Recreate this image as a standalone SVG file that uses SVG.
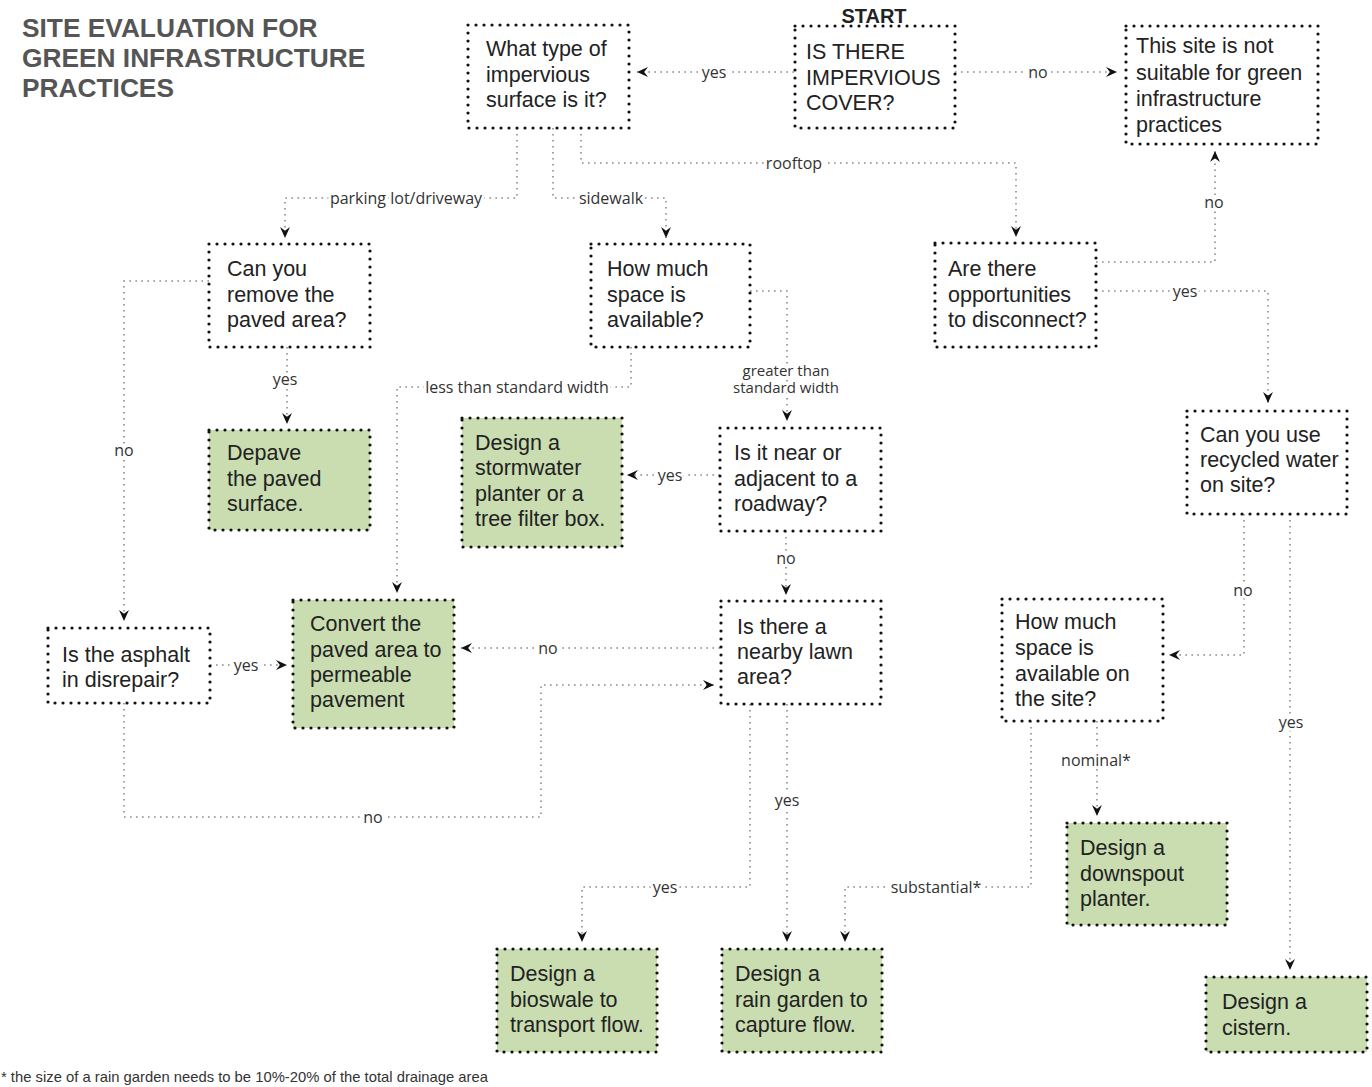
<svg xmlns="http://www.w3.org/2000/svg" width="1372" height="1087" viewBox="0 0 1372 1087">
<style>
.bg{fill:#fff}
.box{fill:#fff;stroke:#111;stroke-width:3.2;stroke-dasharray:0 8;stroke-linecap:round}
.box.g{fill:#c9ddb1}
.t{font-family:"Liberation Sans",Arial,sans-serif;font-size:21.5px;fill:#222}
.title{font-family:"Liberation Sans",Arial,sans-serif;font-size:26.3px;font-weight:bold;fill:#555}
.start{font-family:"Liberation Sans",Arial,sans-serif;font-size:20px;font-weight:bold;fill:#222;text-anchor:middle}
.c{fill:none;stroke:#8a8a8a;stroke-width:1.6;stroke-dasharray:1.6 4.4;marker-end:url(#ah)}
.lbl{font-family:"Open Sans","DejaVu Sans",sans-serif;font-size:16px;fill:#333;text-anchor:middle;paint-order:stroke;stroke:#fff;stroke-width:6px;stroke-linejoin:round}
.lbl.s{font-size:15px;stroke-width:4px}
.foot{font-family:"Liberation Sans",Arial,sans-serif;font-size:14.8px;fill:#333}
</style>
<defs>
<marker id="ah" viewBox="0 0 10 10" markerUnits="userSpaceOnUse" markerWidth="11" markerHeight="11" refX="10" refY="5" orient="auto">
<path d="M0,0.5 L10,5 L0,9.5 L3.5,5 Z" fill="#111"/>
</marker>
</defs>
<rect class="bg" x="0" y="0" width="1372" height="1087"/>

<g id="title">
<text class="title" x="22" y="37">SITE EVALUATION FOR</text>
<text class="title" x="22" y="67">GREEN INFRASTRUCTURE</text>
<text class="title" x="22" y="97">PRACTICES</text>
</g>

<g id="connectors">
<path class="c" d="M794,72 H637"/>
<path class="c" d="M955,72 H1117"/>
<path class="c" d="M517,128 V198 H285 V238"/>
<path class="c" d="M553,128 V198 H666 V238"/>
<path class="c" d="M581,128 V163 H1016 V237"/>
<path class="c" d="M287,347 V424"/>
<path class="c" d="M209,281 H124 V621"/>
<path class="c" d="M631,347 V387 H397 V593"/>
<path class="c" d="M750,291 H787 V421"/>
<path class="c" d="M720,475 H627"/>
<path class="c" d="M786,531 V595"/>
<path class="c" d="M720,648 H461"/>
<path class="c" d="M210,665 H287"/>
<path class="c" d="M124,703 V817 H541 V685 H714"/>
<path class="c" d="M750,704 V887 H582 V942"/>
<path class="c" d="M787,704 V942"/>
<path class="c" d="M1031,721 V887 H845 V942"/>
<path class="c" d="M1097,721 V816"/>
<path class="c" d="M1096,262 H1215 V151"/>
<path class="c" d="M1096,291 H1268 V403"/>
<path class="c" d="M1244,514 V655 H1169"/>
<path class="c" d="M1290,514 V970"/>

<text class="lbl" x="714" y="78">yes</text>
<text class="lbl" x="1038" y="78">no</text>
<text class="lbl" x="406" y="204">parking lot/driveway</text>
<text class="lbl" x="611" y="204">sidewalk</text>
<text class="lbl" x="794" y="169">rooftop</text>
<text class="lbl" x="285" y="385">yes</text>
<text class="lbl" x="124" y="456">no</text>
<text class="lbl" x="517" y="393">less than standard width</text>
<text class="lbl s" x="786" y="376">greater than</text>
<text class="lbl s" x="786" y="393">standard width</text>
<text class="lbl" x="670" y="481">yes</text>
<text class="lbl" x="786" y="564">no</text>
<text class="lbl" x="548" y="654">no</text>
<text class="lbl" x="246" y="671">yes</text>
<text class="lbl" x="373" y="823">no</text>
<text class="lbl" x="665" y="893">yes</text>
<text class="lbl" x="787" y="806">yes</text>
<text class="lbl" x="936" y="893">substantial*</text>
<text class="lbl" x="1096" y="766">nominal*</text>
<text class="lbl" x="1214" y="208">no</text>
<text class="lbl" x="1185" y="297">yes</text>
<text class="lbl" x="1243" y="596">no</text>
<text class="lbl" x="1291" y="728">yes</text>
</g>

<g id="n-type">
<rect class="box" x="468" y="25" width="161" height="103"/>
<text class="t" x="486" y="56">What type of</text>
<text class="t" x="486" y="82">impervious</text>
<text class="t" x="486" y="107">surface is it?</text>
</g>

<g id="n-start">
<rect class="box" x="795" y="26" width="160" height="102"/>
<text class="start" x="874" y="23">START</text>
<text class="t" x="806" y="59">IS THERE</text>
<text class="t" x="806" y="85">IMPERVIOUS</text>
<text class="t" x="806" y="110">COVER?</text>
</g>

<g id="n-notsuitable">
<rect class="box" x="1126" y="26" width="192" height="118"/>
<text class="t" x="1136" y="53">This site is not</text>
<text class="t" x="1136" y="80">suitable for green</text>
<text class="t" x="1136" y="106">infrastructure</text>
<text class="t" x="1136" y="132">practices</text>
</g>

<g id="n-remove">
<rect class="box" x="209" y="244" width="161" height="103"/>
<text class="t" x="227" y="276">Can you</text>
<text class="t" x="227" y="302">remove the</text>
<text class="t" x="227" y="327">paved area?</text>
</g>

<g id="n-howmuch">
<rect class="box" x="591" y="244" width="159" height="103"/>
<text class="t" x="607" y="276">How much</text>
<text class="t" x="607" y="302">space is</text>
<text class="t" x="607" y="327">available?</text>
</g>

<g id="n-disconnect">
<rect class="box" x="935" y="243" width="161" height="104"/>
<text class="t" x="948" y="276">Are there</text>
<text class="t" x="948" y="302">opportunities</text>
<text class="t" x="948" y="327">to disconnect?</text>
</g>

<g id="n-depave">
<rect class="box g" x="209" y="430" width="161" height="100"/>
<text class="t" x="227" y="460">Depave</text>
<text class="t" x="227" y="486">the paved</text>
<text class="t" x="227" y="511">surface.</text>
</g>

<g id="n-planter">
<rect class="box g" x="462" y="418" width="160" height="129"/>
<text class="t" x="475" y="450">Design a</text>
<text class="t" x="475" y="475">stormwater</text>
<text class="t" x="475" y="501">planter or a</text>
<text class="t" x="475" y="526">tree filter box.</text>
</g>

<g id="n-roadway">
<rect class="box" x="720" y="428" width="161" height="103"/>
<text class="t" x="734" y="460">Is it near or</text>
<text class="t" x="734" y="486">adjacent to a</text>
<text class="t" x="734" y="511">roadway?</text>
</g>

<g id="n-recycled">
<rect class="box" x="1187" y="411" width="160" height="103"/>
<text class="t" x="1200" y="442">Can you use</text>
<text class="t" x="1200" y="467">recycled water</text>
<text class="t" x="1200" y="492">on site?</text>
</g>

<g id="n-asphalt">
<rect class="box" x="48" y="628" width="162" height="75"/>
<text class="t" x="62" y="662">Is the asphalt</text>
<text class="t" x="62" y="687">in disrepair?</text>
</g>

<g id="n-convert">
<rect class="box g" x="293" y="600" width="161" height="128"/>
<text class="t" x="310" y="631">Convert the</text>
<text class="t" x="310" y="657">paved area to</text>
<text class="t" x="310" y="682">permeable</text>
<text class="t" x="310" y="707">pavement</text>
</g>

<g id="n-lawn">
<rect class="box" x="721" y="601" width="160" height="103"/>
<text class="t" x="737" y="634">Is there a</text>
<text class="t" x="737" y="659">nearby lawn</text>
<text class="t" x="737" y="684">area?</text>
</g>

<g id="n-howmuch2">
<rect class="box" x="1002" y="599" width="161" height="122"/>
<text class="t" x="1015" y="629">How much</text>
<text class="t" x="1015" y="655">space is</text>
<text class="t" x="1015" y="681">available on</text>
<text class="t" x="1015" y="706">the site?</text>
</g>

<g id="n-downspout">
<rect class="box g" x="1067" y="823" width="160" height="102"/>
<text class="t" x="1080" y="855">Design a</text>
<text class="t" x="1080" y="881">downspout</text>
<text class="t" x="1080" y="906">planter.</text>
</g>

<g id="n-cistern">
<rect class="box g" x="1206" y="977" width="161" height="75"/>
<text class="t" x="1222" y="1009">Design a</text>
<text class="t" x="1222" y="1035">cistern.</text>
</g>

<g id="n-bioswale">
<rect class="box g" x="497" y="949" width="160" height="103"/>
<text class="t" x="510" y="981">Design a</text>
<text class="t" x="510" y="1007">bioswale to</text>
<text class="t" x="510" y="1032">transport flow.</text>
</g>

<g id="n-raingarden">
<rect class="box g" x="722" y="949" width="160" height="103"/>
<text class="t" x="735" y="981">Design a</text>
<text class="t" x="735" y="1007">rain garden to</text>
<text class="t" x="735" y="1032">capture flow.</text>
</g>

<g id="footnote">
<text class="foot" x="1" y="1082">* the size of a rain garden needs to be 10%-20% of the total drainage area</text>
</g>
</svg>
